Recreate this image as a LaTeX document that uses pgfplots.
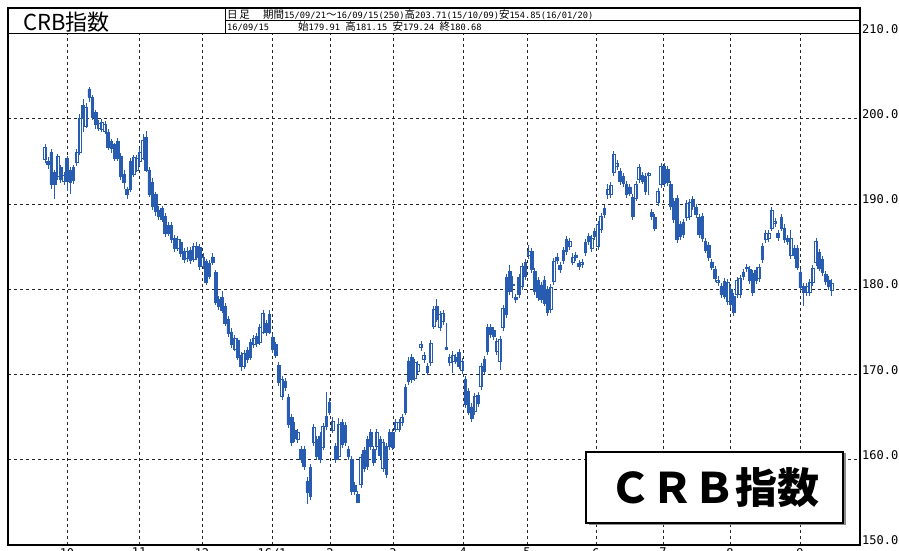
\documentclass[border=0pt]{standalone}
\usepackage{fontspec}
\usepackage{pgfplots}
\pgfplotsset{compat=1.18}
\usepackage{pgfplotstable}
\newfontfamily\jp{Noto Sans CJK JP}
\newfontfamily\mono{DejaVu Sans Mono}
\definecolor{cb}{RGB}{40,92,176}
\newcommand{\hdr}{\jp\fontsize{10.5}{10.5}\selectfont}
\newcommand{\hm}[1]{{\mono\fontsize{8.7}{8.7}\selectfont #1}}

\pgfplotstableread{
i o h l c
0 195.2 197.0 194.8 196.7
1 195.0 195.5 194.1 194.6
2 196.0 196.4 191.8 192.3
3 193.7 194.0 190.6 192.3
4 193.2 195.9 192.8 195.6
5 194.3 194.6 192.5 192.9
6 192.6 193.8 192.2 193.4
7 195.3 195.6 191.5 192.6
8 192.5 194.3 191.2 194.0
9 192.8 194.6 192.4 194.3
10 194.9 196.5 194.5 196.1
11 196.0 200.5 195.8 200.1
12 201.6 202.3 198.4 200.1
13 199.1 201.8 198.9 201.3
14 203.5 203.71 202.0 202.5
15 202.5 202.8 199.9 200.2
16 200.7 201.0 198.8 199.3
17 198.9 199.9 198.6 199.5
18 198.7 200.0 198.4 199.6
19 198.5 199.7 198.2 199.3
20 198.4 198.8 196.3 196.6
21 197.3 197.6 196.0 196.5
22 197.0 197.2 195.1 195.4
23 197.3 197.8 195.0 195.4
24 195.6 196.0 192.8 193.2
25 193.5 194.0 191.8 192.5
26 191.7 192.0 190.6 191.1
27 191.7 195.4 191.4 195.0
28 193.5 195.8 193.2 195.5
29 194.0 195.8 193.7 195.3
30 195.0 196.5 194.5 196.0
31 195.4 198.2 195.2 197.5
32 197.8 198.6 193.8 194.0
33 194.0 194.3 190.8 191.1
34 192.5 193.0 189.3 189.7
35 191.1 191.4 188.6 189.1
36 189.3 189.8 188.1 188.6
37 189.5 189.8 187.9 188.2
38 188.5 188.9 186.1 186.5
39 186.5 187.9 186.2 187.5
40 187.5 187.9 185.4 185.8
41 186.0 186.4 184.4 184.8
42 184.8 186.2 184.5 185.8
43 185.5 185.9 183.8 184.2
44 184.5 184.8 183.1 183.5
45 183.6 184.9 183.2 184.5
46 184.6 185.0 183.0 183.4
47 183.5 185.4 183.2 185.0
48 185.0 185.5 183.4 183.8
49 184.9 185.3 182.3 182.7
50 182.7 184.2 182.4 183.8
51 183.3 183.6 180.5 180.8
52 183.0 183.4 181.2 181.5
53 183.8 184.3 182.8 183.1
54 182.0 182.3 178.2 178.5
55 178.8 179.2 177.6 178.0
56 179.0 179.8 177.2 177.5
57 178.0 178.4 175.7 176.0
58 176.5 176.9 174.4 174.8
59 175.0 175.4 173.1 173.5
60 173.0 174.6 172.7 174.2
61 174.0 174.3 171.7 172.0
62 172.3 172.6 170.4 171.0
63 171.0 172.9 170.6 172.5
64 172.8 173.2 171.4 171.8
65 172.0 174.2 171.7 173.8
66 173.5 174.6 173.1 174.2
67 174.5 174.9 173.2 173.6
68 173.8 175.9 173.5 175.5
69 175.0 177.6 174.7 177.2
70 176.0 176.4 174.5 174.9
71 175.0 177.6 174.7 177.0
72 174.3 174.7 172.5 172.9
73 173.5 173.8 171.9 172.3
74 171.1 171.5 168.7 169.1
75 167.4 169.8 167.0 169.4
76 169.2 169.6 168.1 168.5
77 167.3 167.7 163.7 164.1
78 165.0 165.4 161.6 162.0
79 163.4 164.4 162.1 162.5
80 162.4 163.6 162.0 163.2
81 161.2 161.6 159.6 160.0
82 161.2 161.6 158.8 159.2
83 157.5 158.0 154.85 156.2
84 155.7 159.5 155.3 159.1
85 162.0 164.2 161.6 163.8
86 162.4 162.8 160.0 160.4
87 162.8 163.2 159.6 160.0
88 161.5 164.3 161.1 163.9
89 163.9 167.9 163.5 165.1
90 165.6 167.3 165.2 166.7
91 163.5 165.0 163.1 164.5
92 161.6 162.0 159.6 160.0
93 160.4 164.9 160.0 164.2
94 164.4 164.8 161.4 161.8
95 164.0 164.4 161.6 162.0
96 161.2 161.6 160.0 160.4
97 160.0 160.4 155.9 156.3
98 157.0 157.4 155.9 156.3
99 155.9 156.3 154.9 155.0
100 157.1 160.7 156.7 160.3
101 161.1 161.5 158.6 159.0
102 159.2 162.8 158.8 162.4
103 163.2 163.6 161.2 161.6
104 161.2 161.6 159.3 159.7
105 161.6 163.6 161.2 163.2
106 162.4 162.8 160.1 160.5
107 159.0 162.4 158.6 162.0
108 158.3 162.0 157.9 161.6
109 163.2 163.6 161.2 161.6
110 163.2 163.6 161.1 161.5
111 163.6 164.8 163.2 164.4
112 163.6 164.8 163.2 164.4
113 164.4 165.4 164.0 165.0
114 165.6 168.9 165.2 168.5
115 171.6 172.0 168.8 169.2
116 172.0 172.4 169.0 169.4
117 169.6 171.8 169.2 171.4
118 170.4 171.6 170.0 171.2
119 173.2 173.9 172.8 173.5
120 171.8 172.6 171.4 172.2
121 170.3 171.4 169.9 171.0
122 171.4 174.1 171.0 173.7
123 175.7 178.0 175.3 177.6
124 178.0 178.8 176.1 176.5
125 175.5 177.4 175.1 177.0
126 176.2 177.6 175.8 177.2
127 173.2 176.0 172.9 173.0
128 171.4 172.4 171.0 172.0
129 171.6 172.7 170.2 172.3
130 172.0 172.4 171.2 171.6
131 172.6 173.0 170.6 171.0
132 170.5 171.9 170.1 171.5
133 169.4 169.8 166.1 166.5
134 168.0 168.4 165.2 165.6
135 166.2 166.6 164.4 164.8
136 165.7 167.8 165.3 167.4
137 167.5 167.9 166.2 166.6
138 168.6 171.4 168.2 171.0
139 170.4 172.2 170.0 171.8
140 172.7 175.9 172.3 175.5
141 175.5 175.9 174.3 174.7
142 175.2 175.6 174.1 174.5
143 172.7 174.3 172.3 173.9
144 171.5 174.5 170.5 174.1
145 175.5 178.2 175.1 177.8
146 177.0 181.8 176.6 181.4
147 182.1 182.8 179.3 179.7
148 180.6 181.5 179.0 180.5
149 179.0 179.4 178.4 178.8
150 181.4 181.8 179.0 179.4
151 180.3 183.1 179.9 182.7
152 181.5 183.5 181.1 183.1
153 184.0 185.2 183.6 184.4
154 184.4 184.8 181.9 182.3
155 182.1 182.5 179.3 179.7
156 181.0 181.4 178.6 179.0
157 180.5 180.9 178.4 178.8
158 181.1 181.5 178.0 178.4
159 180.0 180.4 176.9 177.3
160 177.6 180.6 177.2 180.2
161 180.9 183.7 180.5 183.3
162 183.8 184.2 183.0 183.4
163 182.8 183.2 181.9 182.3
164 183.4 185.0 183.0 184.6
165 184.4 186.2 184.0 185.8
166 185.0 186.0 184.6 185.6
167 183.2 184.2 182.8 183.8
168 184.0 184.4 183.3 183.7
169 183.0 183.4 182.3 182.7
170 182.9 183.6 182.5 183.2
171 184.3 185.9 183.9 185.5
172 186.2 186.6 185.2 185.6
173 184.8 186.4 184.4 186.0
174 186.8 187.2 185.8 186.2
175 185.0 188.0 184.6 187.6
176 187.0 188.9 186.6 188.5
177 188.8 189.9 188.4 189.5
178 191.1 192.3 190.6 191.7
179 191.1 192.6 190.7 192.2
180 193.7 196.2 193.3 195.8
181 194.4 195.2 194.0 194.8
182 193.8 194.2 192.2 192.6
183 193.2 193.6 192.0 192.4
184 191.1 192.7 190.7 192.3
185 192.0 192.4 190.9 191.3
186 190.8 191.2 188.1 188.5
187 190.7 192.7 190.3 192.3
188 192.9 194.7 192.5 194.3
189 192.7 193.8 192.3 193.4
190 193.2 193.6 191.1 191.5
191 193.4 193.8 191.0 193.6
192 189.0 189.4 188.1 188.5
193 188.4 188.8 186.8 187.2
194 190.2 191.9 189.8 191.5
195 192.3 194.8 191.9 194.4
196 194.4 194.8 192.0 192.4
197 194.1 194.5 192.1 192.5
198 192.3 192.7 189.3 189.7
199 190.3 190.7 187.8 188.2
200 190.7 191.1 185.4 185.8
201 187.6 188.0 185.8 186.2
202 187.8 188.2 186.0 186.4
203 188.4 190.5 188.0 190.1
204 188.5 190.6 188.1 190.2
205 190.5 190.9 189.3 189.7
206 189.6 190.0 188.4 188.8
207 188.4 188.8 186.0 186.4
208 188.5 188.9 185.6 186.0
209 185.6 186.0 184.2 184.6
210 185.2 185.6 183.3 183.7
211 183.2 183.6 182.2 182.6
212 182.3 182.7 180.9 181.3
213 180.8 181.5 180.4 181.1
214 180.3 180.7 179.0 179.4
215 180.9 181.3 178.8 179.2
216 178.6 181.2 178.2 180.8
217 180.0 180.4 177.8 178.2
218 179.2 179.6 176.9 177.3
219 179.4 181.4 179.0 181.0
220 179.4 181.7 179.0 181.3
221 181.5 182.4 181.1 182.0
222 182.6 183.0 182.0 182.4
223 182.3 182.7 180.6 181.0
224 181.9 182.3 179.2 179.6
225 182.2 182.6 180.6 181.0
226 181.3 183.0 180.9 182.6
227 183.5 185.4 183.1 185.0
228 185.8 187.0 185.4 186.6
229 186.0 187.0 185.6 186.6
230 187.2 189.7 186.8 189.3
231 187.7 188.4 187.3 188.0
232 186.5 186.9 185.7 186.1
233 187.2 188.8 186.8 188.4
234 187.2 187.6 185.4 185.8
235 186.0 186.4 185.2 185.6
236 184.0 187.0 183.6 186.0
237 184.8 185.2 183.6 184.0
238 184.8 185.2 182.2 182.6
239 182.0 182.4 179.8 180.2
240 180.3 180.7 178.0 179.6
241 179.6 180.7 179.2 180.3
242 179.6 181.2 179.2 180.8
243 180.8 182.9 180.4 182.5
244 183.1 186.0 182.7 185.6
245 184.3 184.7 182.1 182.5
246 183.5 183.9 181.6 182.0
247 181.7 182.1 180.5 180.9
248 181.1 181.5 179.9 180.3
249 179.91 181.15 179.24 180.68
}\crb

\begin{document}
\begin{tikzpicture}[x=1pt,y=1pt]
\useasboundingbox (0,0) rectangle (899,551);
\begin{axis}[
  at={(8pt,6pt)}, anchor=south west,
  width=852pt, height=511.5pt, scale only axis,
  xmin=-11.71, xmax=257.91, ymin=150, ymax=210,
  ybar stacked, bar width=0.88,
  xtick={6.96,29.75,49.68,71.84,90.19,110.13,132.28,152.53,174.37,195.57,216.77,238.92},
  xticklabels={10,11,12,16/1,2,3,4,5,6,7,8,9},
  ytick={150,160,170,180,190,200,210},
  yticklabel pos=right,
  major tick length=0pt,
  xmajorgrids, ymajorgrids,
  grid style={black!85, line width=0.9pt, dash pattern=on 3pt off 3pt},
  axis line style={line width=0.8pt},
  tick label style={font=\mono\fontsize{12}{12}\selectfont},
  yticklabel style={anchor=south west, inner sep=0pt, xshift=2pt,
    /pgf/number format/.cd, fixed, fixed zerofill, precision=2, assume math mode=true},
  xticklabel style={anchor=north, inner sep=0pt, yshift=-3pt},
]
\addplot[draw=none, fill=none,
  error bars/.cd, y dir=plus, y explicit, error mark=none,
  error bar style={cb, line width=0.8pt}]
  table[x=i, y=l, y error plus expr={\thisrow{h}-\thisrow{l}}] {\crb};
\addplot[draw=none, fill=none]
  table[x=i, y expr={min(\thisrow{o},\thisrow{c})-\thisrow{l}}] {\crb};
\addplot[fill=cb, draw=cb, line width=0.7pt]
  table[x=i, y expr={max(\thisrow{o}-\thisrow{c},0)}] {\crb};
\addplot[fill=white, draw=cb, line width=0.7pt]
  table[x=i, y expr={max(\thisrow{c}-\thisrow{o},0)}] {\crb};
\end{axis}
% header and frame
\draw[line width=2pt] (8,6) rectangle (860,542.5);
\draw[line width=0.9pt] (225,517.5) -- (225,542.5);
\draw[line width=0.9pt] (225,530.5) -- (860,530.5);
\node[anchor=base west, inner sep=0pt] at (23,520) {\jp\fontsize{22}{22}\selectfont CRB指数};
\node[anchor=base west, inner sep=0pt] at (227,532.5) {\hdr 日\,足};
\node[anchor=base west, inner sep=0pt] at (263,532.5) {\hdr 期間\hm{15/09/21}～\hm{16/09/15(250)}高\hm{203.71(15/10/09)}安\hm{154.85(16/01/20)}};
\node[anchor=base west, inner sep=0pt] at (227,520) {\hm{16/09/15}};
\node[anchor=base west, inner sep=0pt] at (298,520) {\hdr 始\hm{179.91 }高\hm{181.15 }安\hm{179.24 }終\hm{180.68}};
% label box
\fill[black!45] (588.5,25.5) rectangle (845.5,97.5);
\node[draw, line width=1.8pt, fill=white, minimum width=257pt, minimum height=71pt, inner sep=0pt]
  at (714.5,63.5) {\jp\bfseries\fontsize{42}{42}\selectfont ＣＲＢ指数};
\end{tikzpicture}
\end{document}
